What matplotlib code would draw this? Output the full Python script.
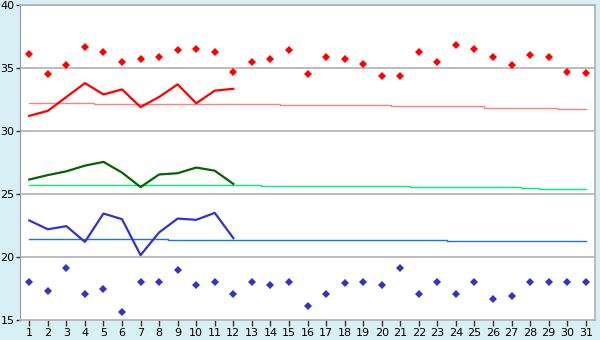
import numpy as np
import matplotlib.pyplot as plt

days = list(range(1, 32))

# daily max / min temps (diamonds)
t_max = [36.1, 34.5, 35.2, 36.7, 36.3, 35.5, 35.7, 35.9, 36.4, 36.5, 36.3, 34.7,
         35.5, 35.7, 36.4, 34.5, 35.9, 35.7, 35.3, 34.4, 34.4, 36.3, 35.5, 36.8,
         36.5, 35.9, 35.2, 36.0, 35.9, 34.7, 34.6]
t_min = [18.0, 17.3, 19.1, 17.1, 17.5, 15.6, 18.0, 18.0, 19.0, 17.8, 18.0, 17.1,
         18.0, 17.8, 18.0, 16.1, 17.1, 17.9, 18.0, 17.8, 19.1, 17.1, 18.0, 17.1,
         18.0, 16.7, 16.9, 18.0, 18.0, 18.0, 18.0]

# observed lines for first 12 days
obs_days = list(range(1, 13))
obs_max = [31.2, 31.6, 32.7, 33.8, 32.9, 33.3, 31.9, 32.7, 33.7, 32.2, 33.2, 33.35]
obs_avg = [26.15, 26.5, 26.8, 27.25, 27.55, 26.7, 25.55, 26.55, 26.65, 27.1, 26.85, 25.8]
obs_min = [22.9, 22.2, 22.45, 21.2, 23.45, 23.0, 20.15, 21.95, 23.05, 22.95, 23.5, 21.5]

# normals
norm_max = [32.2, 32.2, 32.2, 32.2, 32.15, 32.15, 32.15, 32.15, 32.15, 32.15, 32.15,
            32.15, 32.15, 32.15, 32.05, 32.05, 32.05, 32.05, 32.05, 32.05, 31.95,
            31.95, 31.95, 31.95, 31.95, 31.85, 31.85, 31.85, 31.85, 31.75, 31.75]
norm_avg = [25.68, 25.68, 25.68, 25.68, 25.68, 25.68, 25.68, 25.68, 25.68, 25.68,
            25.68, 25.68, 25.68, 25.6, 25.6, 25.6, 25.6, 25.6, 25.6, 25.6, 25.6,
            25.52, 25.52, 25.52, 25.52, 25.52, 25.52, 25.44, 25.36, 25.36, 25.36]
norm_min = [21.45, 21.45, 21.45, 21.45, 21.45, 21.45, 21.45, 21.45, 21.38, 21.38,
            21.38, 21.38, 21.38, 21.38, 21.38, 21.38, 21.38, 21.38, 21.38, 21.38,
            21.38, 21.38, 21.38, 21.3, 21.3, 21.3, 21.3, 21.3, 21.3, 21.3, 21.3]

bg = '#d9eff6'
fig = plt.figure(figsize=(6, 3.4), dpi=100, facecolor=bg)
ax = fig.add_axes([20 / 600, 20 / 340, 575 / 600, 315 / 340])
ax.set_facecolor('white')

for y in [20, 25, 30, 35, 40]:
    ax.axhline(y, color='#b0b0b0', lw=1.2, zorder=1)

ax.plot(days, norm_max, color='#ff8080', lw=1, drawstyle='steps-mid', zorder=2)
ax.plot(days, norm_avg, color='#00ee7a', lw=1, drawstyle='steps-mid', zorder=2)
ax.plot(days, norm_min, color='#1a73e8', lw=1, drawstyle='steps-mid', zorder=2)

ax.plot(obs_days, obs_max, color='#ff0000', lw=1.6, zorder=3)
ax.plot(obs_days, obs_avg, color='#006600', lw=1.6, zorder=3)
ax.plot(obs_days, obs_min, color='#3333cc', lw=1.6, zorder=3)

ax.plot(days, t_max, ls='none', marker='D', ms=4, color='#ff0000', mew=0, zorder=4)
ax.plot(days, t_min, ls='none', marker='D', ms=4, color='#3333cc', mew=0, zorder=4)

ax.set_xlim(0.5, 31.5)
ax.set_ylim(15, 40)
ax.set_xticks(days)
ax.set_yticks([15, 20, 25, 30, 35, 40])
ax.tick_params(axis='x', labelsize=8, color='#333333', length=4, width=1, pad=2)
ax.tick_params(axis='y', labelsize=8, color='#333333', length=3, width=1, pad=1)
for side in ['top', 'right', 'bottom']:
    ax.spines[side].set_color('#b0b0b0')
    ax.spines[side].set_linewidth(1.2)
ax.spines['left'].set_color('#999999')

plt.savefig('out.png', facecolor=bg)
